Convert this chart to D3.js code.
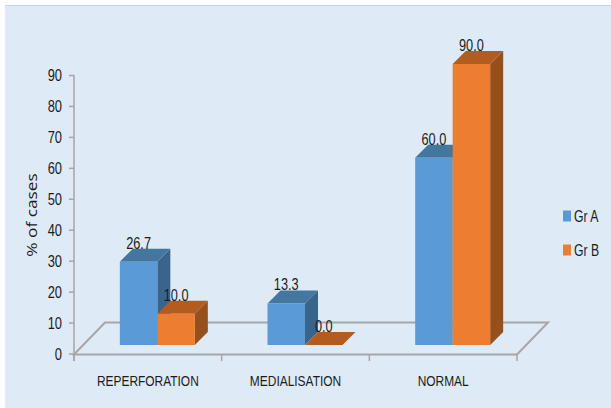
<!DOCTYPE html>
<html><head><meta charset="utf-8">
<script src="https://cdn.jsdelivr.net/npm/d3@7"></script>
<style>html,body{margin:0;padding:0;background:#fff}svg{display:block}
text{font-family:"Liberation Sans",sans-serif;fill:#1c1c1c}</style>
</head><body><script>
const categories=["REPERFORATION","MEDIALISATION","NORMAL"];
const seriesNames=["Gr A","Gr B"];
const grA=[26.7,13.3,60.0];
const grB=[10.0,0.0,90.0];
const yTicks=[0,10,20,30,40,50,60,70,80,90];
const palette={"Gr A":{front:"#5b9bd5",top:"#44779f",side:"#3a6489"},"Gr B":{front:"#ed7d31",top:"#b35c20",side:"#96501d"}};
const W=611,H=408;
const svg=d3.select("body").append("svg").attr("width",W).attr("height",H);
svg.append("rect").attr("x",5).attr("y",5).attr("width",W-5).attr("height",H-5).attr("fill","#deeaf6");
svg.append("line").attr("x1",5).attr("x2",W).attr("y1",5.5).attr("y2",5.5).attr("stroke","#c3d2e2");

const xBand=d3.scaleBand().domain(categories).range([74,517]);
const axisY=d3.scaleLinear().domain([0,90]).range([353.5,75]);
const barY=d3.scaleLinear().domain([0,90]).range([345,64]);
const sub=d3.scaleBand().domain(seriesNames).range([0,75]);
const depth=13, grey="#a6a6a6";

// condensed text helper
function label(x,y,str,size,sx,anchor){
  return svg.append("text").attr("transform",`translate(${x},${y}) scale(${sx},1)`)
    .attr("text-anchor",anchor||"middle").attr("font-size",size).text(str);
}

// floor
svg.append("path").attr("fill","none").attr("stroke",grey).attr("stroke-width",2)
  .attr("d","M74,354.5L105,322.5L548,322.5L517,354.5Z");
// x axis ticks
categories.concat([null]).forEach(c=>{
  const x=c?xBand(c):517;
  svg.append("line").attr("x1",x).attr("x2",x).attr("y1",354).attr("y2",361).attr("stroke",grey).attr("stroke-width",1.5);
});
svg.append("line").attr("x1",74).attr("x2",74).attr("y1",75).attr("y2",361).attr("stroke",grey).attr("stroke-width",1.5);
// y axis
const gy=svg.append("g").attr("transform","translate(74,0)")
  .call(d3.axisLeft(axisY).tickValues(yTicks).tickSize(5).tickFormat(""));
gy.select(".domain").remove();
gy.selectAll("line").attr("stroke",grey).attr("stroke-width",1.5);
yTicks.forEach(t=>label(62,axisY(t)+6,String(t),16.5,0.78,"end"));

svg.append("text").attr("transform","translate(37,215) rotate(-90) scale(1.15,1)").attr("text-anchor","middle")
  .style("font-family",'"Open Sans"').attr("font-size",15).text("% of cases");

// bars
const seriesValues={"Gr A":grA,"Gr B":grB};
categories.forEach((c,i)=>{
  const x0=xBand(c)+xBand.bandwidth()/2+9.5-37.5;
  seriesNames.forEach(s=>{
    const v=seriesValues[s][i],col=palette[s];
    const x=x0+sub(s),w=sub.bandwidth(),y=barY(v),b=barY(0);
    const g=svg.append("g");
    g.append("path").attr("fill",col.side).attr("d",`M${x+w},${y}L${x+w+depth},${y-depth}L${x+w+depth},${b-depth}L${x+w},${b}Z`);
    g.append("path").attr("fill",col.top).attr("d",`M${x},${y}L${x+depth},${y-depth}L${x+w+depth},${y-depth}L${x+w},${y}Z`);
    g.append("rect").attr("x",x).attr("y",y).attr("width",w).attr("height",b-y).attr("fill",col.front);
  });
});
// value labels
categories.forEach((c,i)=>{
  const x0=xBand(c)+xBand.bandwidth()/2+9.5-37.5;
  seriesNames.forEach(s=>{
    const v=seriesValues[s][i];
    label(x0+sub(s)+sub.bandwidth()/2,barY(v)-13,v.toFixed(1),17,0.75);
  });
});
// category labels
categories.forEach(c=>label(xBand(c)+xBand.bandwidth()/2,386,c,15.5,0.77));
// legend
const legY=d3.scalePoint().domain(seriesNames).range([215,249]);
seriesNames.forEach(s=>{
  svg.append("rect").attr("x",563).attr("y",legY(s)-4.5).attr("width",8).attr("height",11).attr("fill",palette[s].front);
  label(574,legY(s)+7,s,17,0.72,"start");
});
</script></body></html>
